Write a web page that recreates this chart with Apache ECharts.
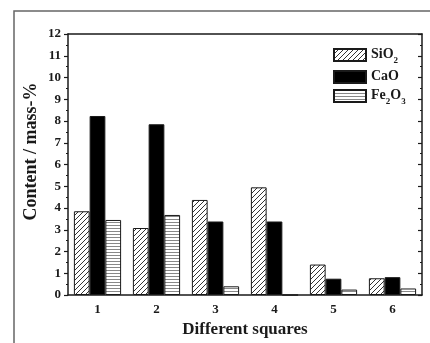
<!DOCTYPE html>
<html>
<head>
<meta charset="utf-8">
<script src="https://cdn.jsdelivr.net/npm/echarts@6/dist/echarts.min.js"></script>
<style>
  html, body { margin: 0; padding: 0; background: #fff; }
  #chart { width: 430px; height: 343px; }
</style>
</head>
<body>
<div id="chart"></div>
<script>
const squares = ["1", "2", "3", "4", "5", "6"];
const sio2 = [3.85, 3.08, 4.37, 4.95, 1.4, 0.77];
const cao = [8.23, 7.85, 3.38, 3.38, 0.75, 0.82];
const fe2o3 = [3.45, 3.68, 0.4, 0, 0.25, 0.3];

const serif = "'Liberation Serif', 'DejaVu Serif', serif";
const ink = "#1a1a1a";

// fill patterns drawn on small canvases
function hatchPattern() {
  const c = document.createElement("canvas");
  c.width = 5; c.height = 5;
  const ctx = c.getContext("2d");
  ctx.fillStyle = "#fff";
  ctx.fillRect(0, 0, 5, 5);
  ctx.strokeStyle = "#333";
  ctx.lineWidth = 1;
  ctx.beginPath();
  ctx.moveTo(-1, 6); ctx.lineTo(6, -1);
  ctx.moveTo(-1, 1); ctx.lineTo(1, -1);
  ctx.moveTo(4, 6); ctx.lineTo(6, 4);
  ctx.stroke();
  return { image: c, repeat: "repeat" };
}
function stripePattern() {
  const c = document.createElement("canvas");
  c.width = 4; c.height = 3;
  const ctx = c.getContext("2d");
  ctx.fillStyle = "#fff";
  ctx.fillRect(0, 0, 4, 3);
  ctx.fillStyle = "#888";
  ctx.fillRect(0, 0, 4, 1);
  return { image: c, repeat: "repeat" };
}

const chart = echarts.init(document.getElementById("chart"), null, { renderer: "canvas" });

const label = { fontFamily: serif, fontWeight: "bold", color: ink };
const rich = {
  b: { fontFamily: serif, fontWeight: "bold", fontSize: 14, color: ink, lineHeight: 16, verticalAlign: "top" },
  s: { fontFamily: serif, fontWeight: "bold", fontSize: 9, color: ink, lineHeight: 9, padding: [9, 0, 0, 0], verticalAlign: "top" },
};

chart.setOption({
  animation: false,
  graphic: [{
    type: "rect",
    shape: { x: 14, y: 11, width: 500, height: 400 },
    style: { fill: null, stroke: "#666", lineWidth: 1.5 },
    silent: true,
  }],
  grid: { left: 68, right: 8, top: 34, bottom: 48, outerBoundsMode: "none" },
  legend: {
    orient: "vertical",
    left: 333,
    top: 47,
    padding: 0,
    icon: "rect",
    itemWidth: 32,
    itemHeight: 12,
    itemGap: 4,
    textStyle: { rich: rich },
    formatter: (name) => {
      if (name === "SiO2") return "{b|SiO}{s|2}";
      if (name === "Fe2O3") return "{b|Fe}{s|2}{b|O}{s|3}";
      return "{b|" + name + "}";
    },
    data: ["SiO2", "CaO", "Fe2O3"],
  },
  xAxis: [
    {
      type: "category",
      data: squares,
      position: "bottom",
      name: "Different squares",
      nameLocation: "middle",
      nameGap: 26,
      nameTextStyle: { ...label, fontSize: 17 },
      axisLine: { lineStyle: { color: ink, width: 1.5 } },
      axisTick: { alignWithLabel: true, length: 5, lineStyle: { color: ink, width: 1.5 } },
      axisLabel: { ...label, fontSize: 13, margin: 8 },
    },
    {
      type: "category",
      data: squares,
      position: "bottom",
      axisLine: { show: false },
      axisTick: { inside: true, length: 3, lineStyle: { color: ink } },
      axisLabel: { show: false },
    },
    {
      type: "category",
      data: squares,
      position: "top",
      axisLine: { lineStyle: { color: ink, width: 1.5 } },
      axisTick: { alignWithLabel: true, inside: true, length: 5, lineStyle: { color: ink, width: 1.5 } },
      axisLabel: { show: false },
    },
    {
      type: "category",
      data: squares,
      position: "top",
      axisLine: { show: false },
      axisTick: { inside: true, length: 3, lineStyle: { color: ink } },
      axisLabel: { show: false },
    },
  ],
  yAxis: [
    {
      type: "value",
      min: 0,
      max: 12,
      interval: 1,
      position: "left",
      name: "Content / mass-%",
      nameLocation: "middle",
      nameGap: 28,
      nameMoveOverlap: false,
      nameTextStyle: { ...label, fontSize: 18, padding: [0, 0, 0, 26] },
      splitLine: { show: false },
      axisLine: { show: true, lineStyle: { color: ink, width: 1.5 } },
      axisTick: { show: true, length: 4, lineStyle: { color: ink, width: 1.2 } },
      minorTick: { show: true, splitNumber: 2, length: 2, lineStyle: { color: ink } },
      axisLabel: { ...label, fontSize: 13, margin: 7 },
    },
    {
      type: "value",
      min: 0,
      max: 12,
      interval: 1,
      position: "right",
      splitLine: { show: false },
      axisLine: { show: true, lineStyle: { color: ink, width: 1.5 } },
      axisTick: { show: true, inside: true, length: 4, lineStyle: { color: ink, width: 1.2 } },
      minorTick: { show: true, splitNumber: 2, length: 2, lineStyle: { color: ink } },
      axisLabel: { show: false },
    },
  ],
  series: [
    {
      name: "SiO2",
      type: "bar",
      data: sio2,
      barGap: "0%",
      barCategoryGap: "20%",
      itemStyle: { color: hatchPattern(), borderColor: ink, borderWidth: 1 },
    },
    {
      name: "CaO",
      type: "bar",
      data: cao,
      itemStyle: { color: "#000", borderColor: ink, borderWidth: 1 },
    },
    {
      name: "Fe2O3",
      type: "bar",
      data: fe2o3,
      itemStyle: { color: stripePattern(), borderColor: ink, borderWidth: 1 },
    },
  ],
});
</script>
</body>
</html>
